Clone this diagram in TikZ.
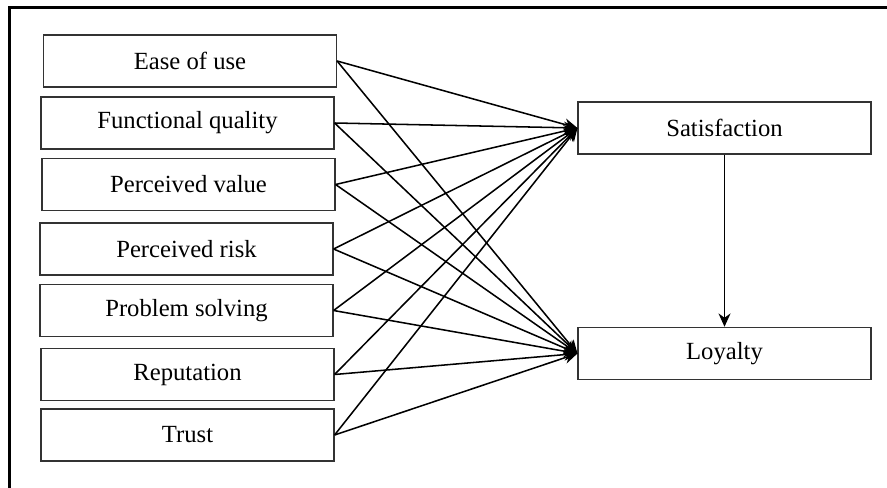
\documentclass[tikz,border=0pt]{standalone}
\usepackage{fontspec}
\setmainfont{Liberation Serif}
\usepackage{tikz}
\usetikzlibrary{arrows.meta}

\tikzset{
	factor/.style={draw=black!80,line width=1.1pt,fill=white,inner sep=0pt,
		minimum width=219.5pt,minimum height=39pt,font=\fontsize{18.5}{21}\selectfont},
	link/.style={line width=1.15pt,-{Stealth[length=10pt,width=9pt]}}
}

\begin{document}
\begin{tikzpicture}[x=0.75pt,y=-0.75pt]
			\useasboundingbox (0,0) rectangle (887,488);
			
			% frame
			\draw[line width=1.6pt] (9.5,488)--(9.5,7.5)--(887,7.5);
			
			% antecedents
			\node[factor] (ease)  at (190,61)    {Ease of use};
			\node[factor] (func)  at (187.5,123) {Functional quality};
			\node[factor] (value) at (188.5,184.5) {Perceived value};
			\node[factor] (risk)  at (186.5,249) {Perceived risk};
			\node[factor] (solve) at (186.5,310.5) {Problem solving};
			\node[factor] (rep)   at (187.5,374.5) {Reputation};
			\node[factor] (trust) at (187.5,435) {Trust};
			
			% outcomes
			\node[factor] (sat) at (724.5,128) {Satisfaction};
			\node[factor] (loy) at (724.5,353.5) {Loyalty};
			
			\foreach \f in {ease,func,value,risk,solve,rep,trust}{
				\draw[link] (\f.east)--(sat.west);
				\draw[link] (\f.east)--(loy.west);
			}
			
			\draw[link] (sat)--(loy);
		\end{tikzpicture}
\end{document}
